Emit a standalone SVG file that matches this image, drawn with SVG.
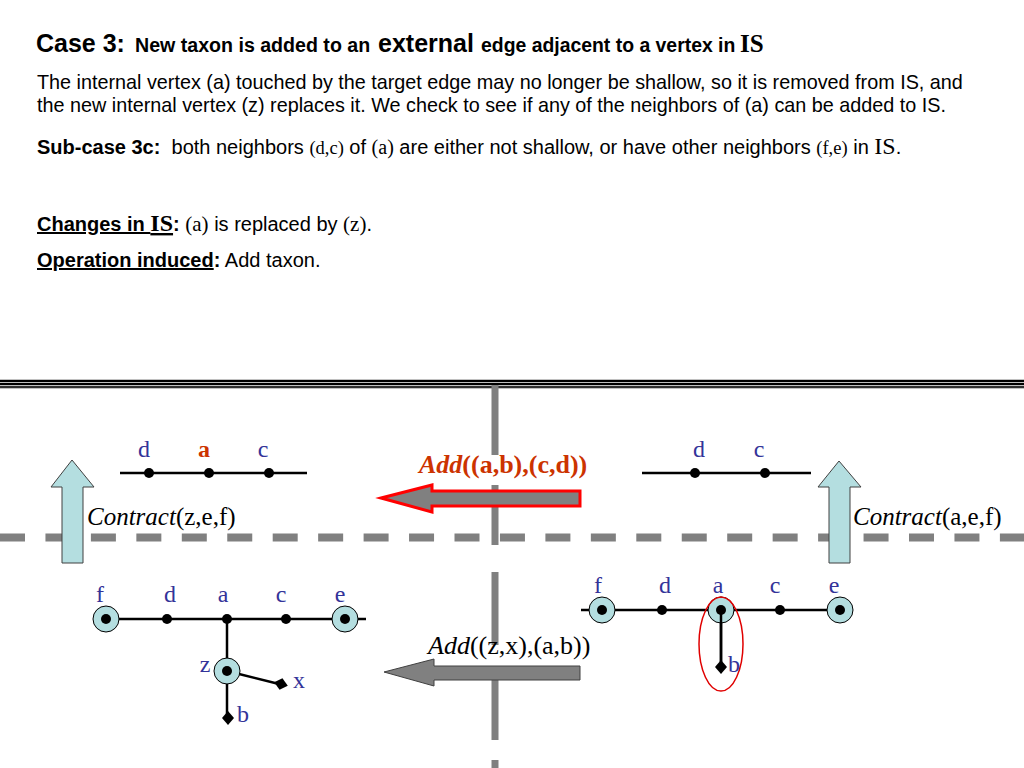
<svg xmlns="http://www.w3.org/2000/svg" width="1024" height="768" viewBox="0 0 1024 768">
<style>
.sans{font-family:"Liberation Sans",Arial,sans-serif;fill:#000}
.serif{font-family:"Liberation Serif","Times New Roman",serif}
.lbl{font-family:"Liberation Serif","Times New Roman",serif;font-size:24px;fill:#333399;text-anchor:middle}
.edge{stroke:#000;stroke-width:2.5;fill:none}
.dot{fill:#000}
.ring{fill:#b4dee0;stroke:#000;stroke-width:1}
.dia{fill:#000}
.grid{stroke:#808080;fill:none}
.upa{fill:#b4dee0;stroke:#404040;stroke-width:1}
</style>
<rect width="1024" height="768" fill="#fff"/>

<g id="header">
<text class="sans" font-weight="bold" y="52"><tspan x="36" font-size="25">Case 3:</tspan><tspan x="135" font-size="19.6">New taxon is added to an</tspan><tspan x="378" font-size="25">external</tspan><tspan x="481" font-size="19.4">edge adjacent to a vertex in</tspan><tspan x="740" class="serif" font-size="25">IS</tspan></text>
<text class="sans" font-size="19.8" x="37" y="89">The internal vertex (a) touched by the target edge may no longer be shallow, so it is removed from IS, and</text>
<text class="sans" font-size="19.8" x="37" y="112">the new internal vertex (z) replaces it. We check to see if any of the neighbors of (a) can be added to IS.</text>
<text class="sans" font-size="20" x="37" y="154" xml:space="preserve"><tspan font-weight="bold">Sub-case 3c:</tspan>  both neighbors <tspan class="serif" font-size="18.5">(d,c)</tspan> of <tspan class="serif" font-size="20">(a)</tspan> are either not shallow, or have other neighbors <tspan class="serif" font-size="18.5">(f,e)</tspan> in <tspan class="serif" font-size="24">IS</tspan>.</text>
<text class="sans" font-size="20" x="37" y="231" xml:space="preserve"><tspan font-weight="bold" text-decoration="underline">Changes in <tspan class="serif" font-size="24">IS</tspan></tspan><tspan font-weight="bold">:</tspan> <tspan class="serif" font-size="21">(a)</tspan> is replaced by <tspan class="serif" font-size="21">(z)</tspan>.</text>
<text class="sans" font-size="20" x="37" y="267" xml:space="preserve"><tspan font-weight="bold" text-decoration="underline">Operation induced</tspan><tspan font-weight="bold">:</tspan> Add taxon.</text>
</g>

<g id="frame">
<rect x="0" y="379" width="1024" height="10" fill="#c0c0c0"/>
<line x1="0" y1="381" x2="1024" y2="381" stroke="#000" stroke-width="2"/>
<line x1="0" y1="384" x2="1024" y2="384" stroke="#000" stroke-width="2"/>
<line x1="0" y1="387" x2="1024" y2="387" stroke="#000" stroke-width="1.3"/>
<line class="grid" x1="0" y1="537.5" x2="1024" y2="537.5" stroke-width="8" stroke-dasharray="25 20.45"/>
<line class="grid" x1="495" y1="385" x2="495" y2="545" stroke-width="7"/>
<line class="grid" x1="495" y1="572" x2="495" y2="740" stroke-width="7"/>
<line class="grid" x1="495" y1="760" x2="495" y2="768" stroke-width="7"/>
</g>

<g id="tree-top-left">
<line class="edge" x1="120" y1="473" x2="307" y2="473"/>
<circle class="dot" cx="149" cy="473" r="5"/>
<circle class="dot" cx="209" cy="473" r="5"/>
<circle class="dot" cx="269" cy="473" r="5"/>
<text class="lbl" x="144" y="457">d</text>
<text class="lbl" x="204" y="457" font-weight="bold" style="fill:#cc3300">a</text>
<text class="lbl" x="263" y="457">c</text>
</g>

<g id="tree-top-right">
<line class="edge" x1="642" y1="473" x2="811" y2="473"/>
<circle class="dot" cx="695" cy="473" r="5"/>
<circle class="dot" cx="765" cy="473" r="5"/>
<text class="lbl" x="699" y="457">d</text>
<text class="lbl" x="759" y="457">c</text>
</g>

<g id="tree-bottom-left">
<line class="edge" x1="94" y1="619" x2="366" y2="619"/>
<line class="edge" x1="227" y1="619" x2="227" y2="716"/>
<line class="edge" x1="227" y1="671" x2="279" y2="684"/>
<circle class="ring" cx="106" cy="619" r="13"/>
<circle class="ring" cx="345" cy="619" r="13"/>
<circle class="ring" cx="227" cy="671" r="13"/>
<circle class="dot" cx="106" cy="619" r="5"/>
<circle class="dot" cx="167" cy="619" r="5"/>
<circle class="dot" cx="227" cy="619" r="5"/>
<circle class="dot" cx="286" cy="619" r="5"/>
<circle class="dot" cx="345" cy="619" r="5"/>
<circle class="dot" cx="227" cy="671" r="5"/>
<polygon class="dia" points="0,-7 6,0 0,7 -6,0" transform="translate(228,718)"/>
<polygon class="dia" points="0,-7 6,0 0,7 -6,0" transform="translate(281,684) rotate(-76)"/>
<text class="lbl" x="100" y="602">f</text>
<text class="lbl" x="170" y="602">d</text>
<text class="lbl" x="223" y="602">a</text>
<text class="lbl" x="281" y="602">c</text>
<text class="lbl" x="340" y="602">e</text>
<text class="lbl" x="205" y="672">z</text>
<text class="lbl" x="299" y="688">x</text>
<text class="lbl" x="243" y="722">b</text>
</g>

<g id="tree-bottom-right">
<line class="edge" x1="581" y1="610" x2="853" y2="610"/>
<line class="edge" x1="721" y1="610" x2="721" y2="662"/>
<circle class="ring" cx="602" cy="610" r="13"/>
<circle class="ring" cx="721" cy="610" r="13"/>
<circle class="ring" cx="840" cy="610" r="13"/>
<circle class="dot" cx="602" cy="610" r="5"/>
<circle class="dot" cx="662" cy="610" r="5"/>
<circle class="dot" cx="721" cy="610" r="5"/>
<circle class="dot" cx="780" cy="610" r="5"/>
<circle class="dot" cx="840" cy="610" r="5"/>
<line class="edge" x1="721" y1="610" x2="721" y2="662"/>
<polygon class="dia" points="0,-7 6,0 0,7 -6,0" transform="translate(721,667)"/>
<ellipse cx="721" cy="644" rx="22" ry="47" fill="none" stroke="#e00000" stroke-width="1.5"/>
<text class="lbl" x="598" y="593">f</text>
<text class="lbl" x="665" y="593">d</text>
<text class="lbl" x="718" y="593">a</text>
<text class="lbl" x="775" y="593">c</text>
<text class="lbl" x="834" y="593">e</text>
<text class="lbl" x="734" y="672">b</text>
</g>

<g id="connectors">
<polygon class="upa" points="72,460 94,487 83,487 83,563 62,563 62,487 51,487"/>
<polygon class="upa" points="839,461 861,487 850,487 850,563 829,563 829,487 818,487"/>
<rect x="488" y="455" width="14" height="30" fill="#fff"/>
<polygon points="381,498 432,485 432,491 580,491 580,506 432,506 432,512" fill="#808080" stroke="#ff0000" stroke-width="3"/>
<rect x="488" y="645" width="14" height="21" fill="#fff"/>
<polygon points="384,672 434,659 434,666 580,666 580,680 434,680 434,686" fill="#808080" stroke="#404040" stroke-width="1"/>
<text class="serif" x="87" y="525" font-size="25"><tspan font-style="italic">Contract</tspan>(z,e,f)</text>
<text class="serif" x="853" y="525" font-size="25"><tspan font-style="italic">Contract</tspan>(a,e,f)</text>
<text class="serif" x="419" y="473" font-size="26" font-weight="bold" fill="#cc3300"><tspan font-style="italic">Add</tspan>((a,b),(c,d))</text>
<text class="serif" x="428" y="654" font-size="26"><tspan font-style="italic">Add</tspan>((z,x),(a,b))</text>
</g>
</svg>
